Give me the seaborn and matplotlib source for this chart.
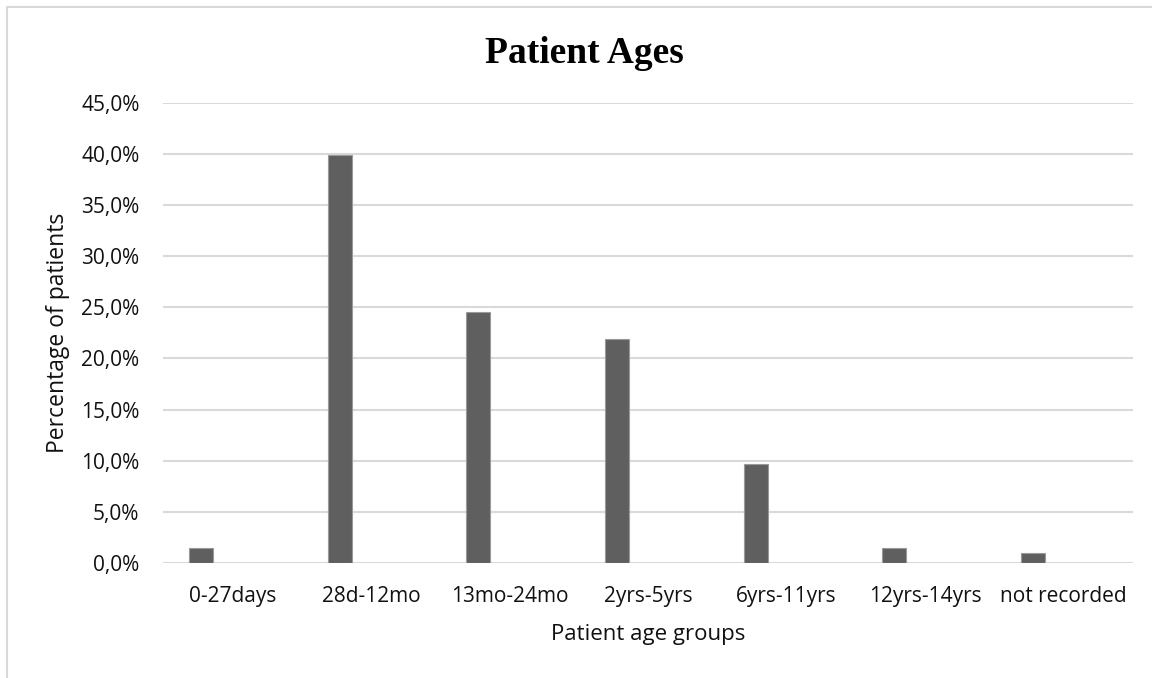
import matplotlib
matplotlib.use("Agg")
from matplotlib import pyplot as plt
from matplotlib.patches import Rectangle
from matplotlib.ticker import FuncFormatter, MultipleLocator
import pandas as pd
import seaborn as sns

age_groups = ["0-27days", "28d-12mo", "13mo-24mo", "2yrs-5yrs",
              "6yrs-11yrs", "12yrs-14yrs", "not recorded"]
pct_patients = [1.4, 39.9, 24.5, 21.9, 9.7, 1.4, 1.0]

df = pd.DataFrame({"group": age_groups, "pct": pct_patients})

sns.set_style("white")
plt.rcParams["font.family"] = ["Open Sans", "DejaVu Sans"]

fig = plt.figure(figsize=(11.52, 6.78), dpi=100)
ax = fig.add_axes([0.1415, 0.170, 0.842, 0.678])

# --------------------------------------------------------
# Bars (Excel-style: narrow, sitting left of the category centre)
# --------------------------------------------------------
bar_w = 0.173
sns.barplot(data=df, x="group", y="pct", order=age_groups,
            color="#5f5f5f", width=bar_w, saturation=1,
            edgecolor="#9a9a9a", linewidth=0.8, ax=ax, zorder=3)

for p in ax.patches:
    p.set_x(p.get_x() - 0.224)

ax.set_xlim(-0.5, len(age_groups) - 0.5)
ax.set_ylim(0, 45)
ax.yaxis.set_major_locator(MultipleLocator(5))
ax.yaxis.set_major_formatter(
    FuncFormatter(lambda v, _: f"{v:.1f}%".replace(".", ",")))

ax.grid(axis="y", color="#d9d9d9", linewidth=1.5, zorder=0)
ax.grid(axis="x", visible=False)
for s in ax.spines.values():
    s.set_visible(False)

ax.tick_params(axis="both", length=0, labelsize=15, colors="#111111")
ax.tick_params(axis="x", pad=17)
ax.tick_params(axis="y", pad=17)

ax.set_xlabel("Patient age groups", fontsize=16, color="#111111", labelpad=12)
ax.set_ylabel("Percentage of patients", fontsize=16.5, color="#111111",
              labelpad=8)

fig.suptitle("Patient Ages", x=0.507, y=0.921, va="center", color="black",
             fontsize=27, fontweight="bold", family="Liberation Serif")

# light chart-area border (top and left edges visible)
fig.patches.append(Rectangle((7 / 1152, -0.1), 1.2, 1.1 - 7 / 678,
                             transform=fig.transFigure, fill=False,
                             edgecolor="#d9d9d9", linewidth=1.5))

fig.savefig("out.png", dpi=100)
